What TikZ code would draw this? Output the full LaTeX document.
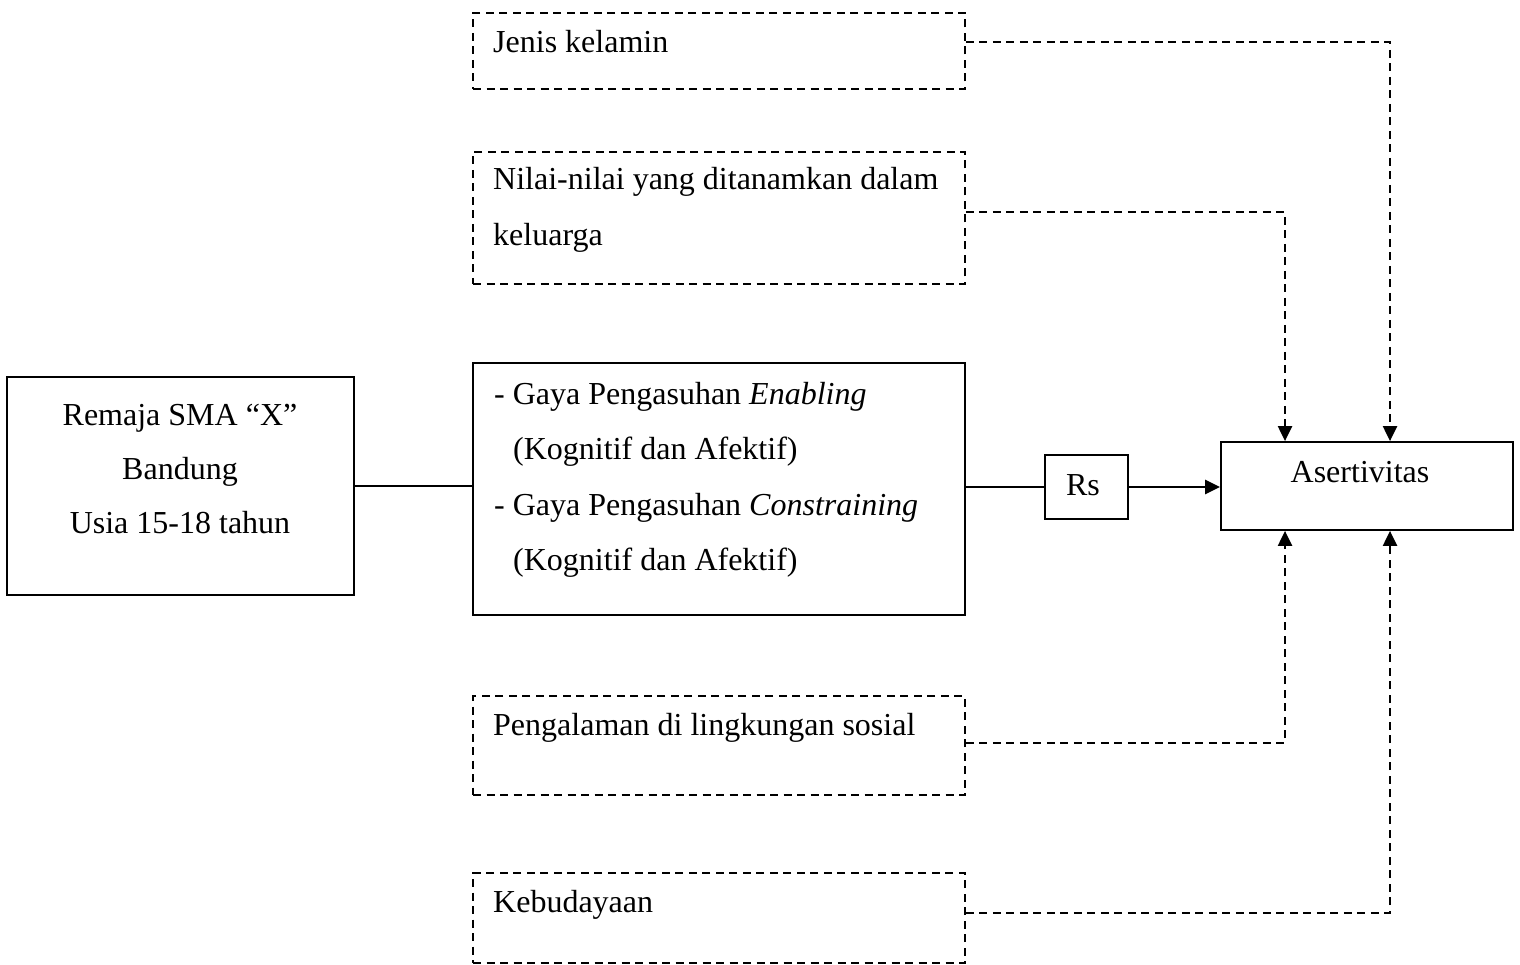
\documentclass[tikz,border=0pt]{standalone}
\usepackage{fontspec}
\setmainfont{Liberation Serif}
\usetikzlibrary{arrows.meta}
\begin{document}
\begin{tikzpicture}[x=1pt,y=-1pt,
  solidbox/.style={draw, line width=1.8pt, inner sep=0pt, minimum width=#1},
  dashbox/.style={draw, line width=1.8pt, dash pattern=on 8pt off 5.5pt, inner sep=0pt, minimum width=492pt},
  txt/.style={inner sep=0pt, font=\fontsize{32}{56}\selectfont},
  conn/.style={line width=2pt},
  dconn/.style={line width=2.2pt, dash pattern=on 8pt off 5.5pt},
  tip/.style={-{Triangle[length=15pt,width=14pt]}}
]
\useasboundingbox (0,0) rectangle (1520,965);

% boxes
\node[solidbox=347pt, minimum height=218pt] (L) at (180.5,486) {};
\node[solidbox=492pt, minimum height=252pt] (M) at (719,489) {};
\node[solidbox=83pt, minimum height=64pt] (Rs) at (1086.5,487) {};
\node[solidbox=292pt, minimum height=88pt] (A) at (1367,486) {};
\node[dashbox, minimum height=76pt] (J) at (719,51) {};
\node[dashbox, minimum height=132pt] (N) at (719,218) {};
\node[dashbox, minimum height=99pt] (P) at (719,745.5) {};
\node[dashbox, minimum height=90pt] (K) at (719,918) {};

% texts
\node[txt, anchor=base] (L1) at (180,425) {Remaja SMA “X”};
\node[txt, anchor=base] (L2) at (180,479) {Bandung};
\node[txt, anchor=base] (L3) at (180,533) {Usia 15-18 tahun};

\node[txt, anchor=base west] (M1) at (494,404) {- Gaya Pengasuhan \textit{Enabling}};
\node[txt, anchor=base west] (M2) at (513,459) {(Kognitif dan Afektif)};
\node[txt, anchor=base west] (M3) at (494,515) {- Gaya Pengasuhan \textit{Constraining}};
\node[txt, anchor=base west] (M4) at (513,570) {(Kognitif dan Afektif)};

\node[txt, anchor=base] (Rst) at (1083,495) {Rs};
\node[txt, anchor=base] (At) at (1360,482) {Asertivitas};

\node[txt, anchor=base west] (Jt) at (493,53) {Jenis kelamin};
\node[txt, anchor=base west] (Nt1) at (493,190) {Nilai-nilai yang ditanamkan dalam};
\node[txt, anchor=base west] (Nt2) at (493,246) {keluarga};
\node[txt, anchor=base west] (Pt) at (493,735) {Pengalaman di lingkungan sosial};
\node[txt, anchor=base west] (Kt) at (493,912) {Kebudayaan};

% solid connectors
\draw[conn] (L.east) -- (L.east -| M.west);
\draw[conn] (Rs.west -| M.east) -- (Rs.west);
\draw[line width=2.8pt, tip] (Rs.east) -- (Rs.east -| A.west);

% dashed connectors
\draw[dconn, tip] ([yshift=9pt]J.east) -| ([xshift=23pt]A.north);
\draw[dconn, tip] ([yshift=6pt]N.east) -| ([xshift=-82pt]A.north);
\draw[dconn, tip] ([yshift=2.5pt]P.east) -| ([xshift=-82pt]A.south);
\draw[dconn, tip] ([yshift=5pt]K.east) -| ([xshift=23pt]A.south);
\end{tikzpicture}
\end{document}
